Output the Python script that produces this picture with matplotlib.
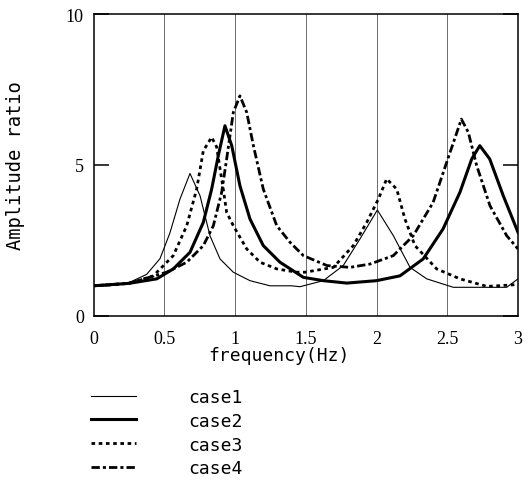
import matplotlib
matplotlib.use("Agg")
import matplotlib.pyplot as plt

# ---- data ----
f1 = [0.0, 0.117, 0.258, 0.376, 0.47, 0.54, 0.611, 0.682, 0.753, 0.823, 0.894, 0.988, 1.106, 1.247,
      1.40, 1.459, 1.624, 1.765, 1.883, 2.006, 2.119, 2.237, 2.355, 2.543, 2.92, 3.0]
a1 = [1.0, 1.0, 1.12, 1.38, 1.9, 2.75, 3.87, 4.72, 3.98, 2.66, 1.89, 1.45, 1.17, 1.0,
      1.0, 0.97, 1.17, 1.67, 2.55, 3.51, 2.66, 1.61, 1.23, 0.95, 0.95, 1.23]

f2 = [0.0, 0.25, 0.447, 0.564, 0.682, 0.776, 0.835, 0.882, 0.929, 0.977, 1.035, 1.106, 1.2, 1.318,
      1.483, 1.624, 1.79, 2.0, 2.166, 2.33, 2.47, 2.59, 2.673, 2.73, 2.8, 2.896, 3.0]
a2 = [1.0, 1.08, 1.23, 1.56, 2.11, 3.1, 4.2, 5.31, 6.3, 5.64, 4.31, 3.21, 2.33, 1.78,
      1.28, 1.17, 1.09, 1.17, 1.33, 1.89, 2.88, 4.1, 5.2, 5.64, 5.2, 3.98, 2.77]

f3 = [0.0, 0.25, 0.423, 0.564, 0.659, 0.729, 0.776, 0.835, 0.87, 0.917, 0.941, 0.988, 1.083, 1.177,
      1.295, 1.436, 1.495, 1.695, 1.836, 1.931, 2.013, 2.072, 2.143, 2.201, 2.272, 2.425, 2.59, 2.78,
      2.96, 3.0]
a3 = [1.0, 1.08, 1.33, 2.0, 2.99, 4.2, 5.47, 5.92, 5.6, 4.2, 3.43, 2.99, 2.22, 1.78,
      1.56, 1.45, 1.45, 1.61, 2.33, 3.1, 3.87, 4.54, 4.2, 3.21, 2.33, 1.56, 1.23, 0.98,
      1.03, 1.05]

f4 = [0.0, 0.25, 0.517, 0.659, 0.776, 0.847, 0.906, 0.941, 0.988, 1.035, 1.083, 1.13, 1.2, 1.295,
      1.389, 1.483, 1.65, 1.813, 1.954, 2.119, 2.26, 2.4, 2.496, 2.6, 2.649, 2.708, 2.802, 2.92, 3.0]
a4 = [1.0, 1.08, 1.45, 1.78, 2.33, 2.99, 4.1, 5.2, 6.74, 7.29, 6.74, 5.64, 4.2, 2.99,
      2.44, 2.0, 1.67, 1.61, 1.72, 2.0, 2.66, 3.76, 5.09, 6.52, 6.08, 4.98, 3.65, 2.66, 2.22]

labels = ["case1", "case2", "case3", "case4"]
xticks = [0, 0.5, 1, 1.5, 2, 2.5, 3]
xticklabels = ["0", "0.5", "1", "1.5", "2", "2.5", "3"]
yticks = [0, 5, 10]

W, H = 532, 481
fig = plt.figure(figsize=(W / 100, H / 100), dpi=100)
L, R, T, B = 93.5, 518, 15, 317
ax = fig.add_axes([L / W, 1 - B / H, (R - L) / W, (B - T) / H])

mono = "DejaVu Sans Mono"
serif = "Liberation Serif"

ax.plot(f1, a1, color="black", lw=0.8, label=labels[0])
ax.plot(f2, a2, color="black", lw=2.2, label=labels[1])
ax.plot(f3, a3, color="black", lw=2.0, linestyle=(0, (1.3, 1.3)), label=labels[2])
ax.plot(f4, a4, color="black", lw=2.0, linestyle=(0, (3.0, 1.1, 1.1, 1.1)), label=labels[3])

ax.set_xlim(0, 3)
ax.set_ylim(0, 10)
ax.set_xticks(xticks)
ax.set_xticklabels(xticklabels, fontfamily=serif, fontsize=13)
ax.set_yticks(yticks)
ax.set_yticklabels([str(v) for v in yticks], fontfamily=serif, fontsize=13)
ax.tick_params(axis="x", length=0, pad=10)
ax.tick_params(axis="y", direction="in", length=11, width=1.1, pad=7, right=True)

for xv in xticks[1:-1]:
    ax.axvline(xv, color="#555555", lw=0.6, zorder=0)

for s in ax.spines.values():
    s.set_linewidth(1.1)
    s.set_color("black")

ax.set_xlabel("frequency(Hz)", fontfamily=mono, fontsize=13)
ax.xaxis.set_label_coords((279 - L) / (R - L), (B - 347) / (B - T))
ax.set_ylabel("Amplitude ratio", fontfamily=mono, fontsize=13.5)
ax.yaxis.set_label_coords((25 - L) / (R - L), 0.5)

fig.legend(loc="upper left", bbox_to_anchor=(91 / W, 1 - 389 / H), frameon=False,
           borderpad=0, borderaxespad=0, handlelength=2.5, handletextpad=2.9,
           labelspacing=0.32, prop={"family": mono, "size": 13})

fig.savefig("out.png", dpi=100)
